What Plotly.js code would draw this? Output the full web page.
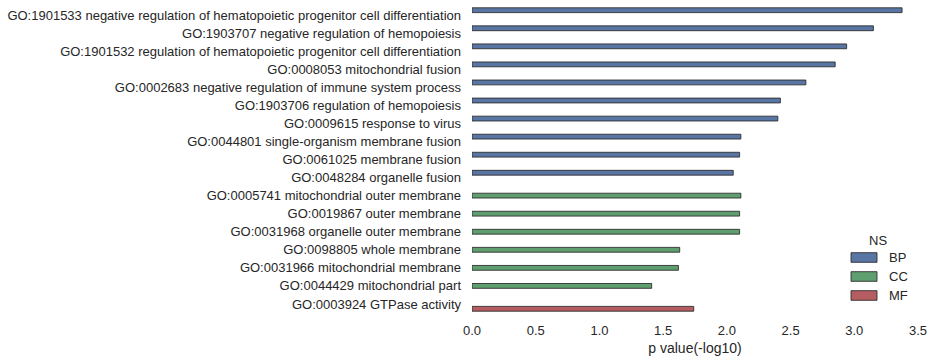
<!DOCTYPE html>
<html>
<head>
<meta charset="utf-8">
<script src="https://cdn.plot.ly/plotly-3.0.1.min.js"></script>
<style>html,body{margin:0;padding:0;background:#fff;}#chart{width:934px;height:362px;}</style>
</head>
<body>
<div id="chart"></div>
<script>
var terms = [
  "GO:1901533 negative regulation of hematopoietic progenitor cell differentiation",
  "GO:1903707 negative regulation of hemopoiesis",
  "GO:1901532 regulation of hematopoietic progenitor cell differentiation",
  "GO:0008053 mitochondrial fusion",
  "GO:0002683 negative regulation of immune system process",
  "GO:1903706 regulation of hemopoiesis",
  "GO:0009615 response to virus",
  "GO:0044801 single-organism membrane fusion",
  "GO:0061025 membrane fusion",
  "GO:0048284 organelle fusion",
  "GO:0005741 mitochondrial outer membrane",
  "GO:0019867 outer membrane",
  "GO:0031968 organelle outer membrane",
  "GO:0098805 whole membrane",
  "GO:0031966 mitochondrial membrane",
  "GO:0044429 mitochondrial part",
  "GO:0003924 GTPase activity"
];
var pvalues = [3.375, 3.15, 2.94, 2.85, 2.62, 2.42, 2.40, 2.11, 2.10, 2.05, 2.11, 2.10, 2.10, 1.63, 1.62, 1.41, 1.74];
var ns = ["BP","BP","BP","BP","BP","BP","BP","BP","BP","BP","CC","CC","CC","CC","CC","CC","MF"];
var groups = ["BP", "CC", "MF"];
var colors = {BP: "#5975A4", CC: "#5F9E6E", MF: "#B55D60"};
var xTicks = [0, 0.5, 1.0, 1.5, 2.0, 2.5, 3.0, 3.5];
var xTickText = ["0.0", "0.5", "1.0", "1.5", "2.0", "2.5", "3.0", "3.5"];

var totalWidth = 0.8;
var slot = totalWidth / groups.length;
var edge = "rgba(40,40,40,0.85)";

var traces = groups.map(function(g, k){
  var xs = [], ys = [];
  for (var i = 0; i < terms.length; i++) {
    if (ns[i] === g) { xs.push(pvalues[i]); ys.push(terms[i]); }
  }
  return {
    type: "bar", orientation: "h", name: g, x: xs, y: ys,
    width: slot, offset: -totalWidth / 2 + k * slot,
    marker: {color: colors[g], line: {color: edge, width: 1}},
    showlegend: false
  };
});

// custom legend (seaborn-style wide patches)
var plotL = 472, plotR = 918, plotT = 6, plotB = 313;
function px(x){ return (x - plotL) / (plotR - plotL); }
function py(y){ return (plotB - y) / (plotB - plotT); }
var shapes = [], annotations = [];
var legendRowY = [257.5, 276.5, 295.5];
groups.forEach(function(g, k){
  var cy = legendRowY[k];
  shapes.push({type: "rect", xref: "paper", yref: "paper",
    x0: px(851), x1: px(877), y0: py(cy + 4.8), y1: py(cy - 4.8),
    fillcolor: colors[g], line: {color: edge, width: 1}});
  annotations.push({xref: "paper", yref: "paper", x: px(887), y: py(cy),
    xanchor: "left", yanchor: "middle", showarrow: false, text: g,
    font: {size: 13, color: "#262626"}});
});
annotations.push({xref: "paper", yref: "paper", x: px(878), y: py(240),
  xanchor: "center", yanchor: "middle", showarrow: false, text: "NS",
  font: {size: 13, color: "#262626"}});

var font = {family: "Liberation Sans, Arial, sans-serif", size: 13, color: "#262626"};
var layout = {
  width: 934, height: 362,
  margin: {l: 472, r: 16, t: 6, b: 49},
  paper_bgcolor: "#fff", plot_bgcolor: "#fff",
  font: font,
  barmode: "overlay",
  xaxis: {
    range: [0, 3.5], tickvals: xTicks, ticktext: xTickText,
    showgrid: false, zeroline: false, showline: false, ticks: "",
    ticklabelstandoff: 8,
    title: {text: "p value(-log10)", font: {size: 14, color: "#262626"}, standoff: 6}
  },
  yaxis: {
    categoryorder: "array", categoryarray: terms, autorange: "reversed",
    showgrid: false, zeroline: false, showline: false, ticks: "",
    ticklabelstandoff: 10
  },
  shapes: shapes,
  annotations: annotations,
  showlegend: false
};
Plotly.newPlot("chart", traces, layout, {staticPlot: true});
</script>
</body>
</html>
